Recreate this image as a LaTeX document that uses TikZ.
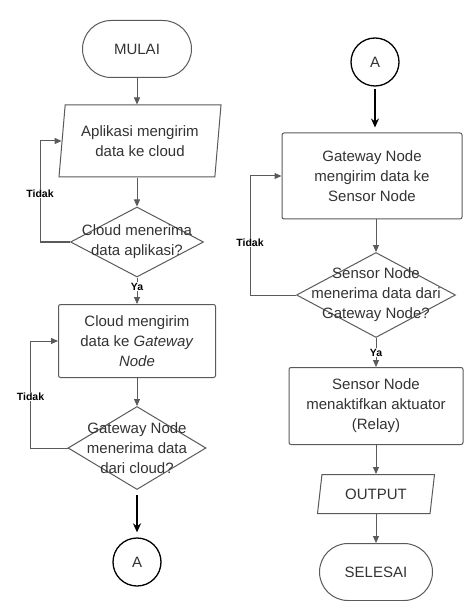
\documentclass[tikz,border=0pt]{standalone}
\usepackage{fontspec}
\setmainfont{Liberation Sans}
\usetikzlibrary{shapes.geometric,shapes.misc,arrows.meta}
\definecolor{garis}{HTML}{5A5A5A}
\definecolor{teks}{HTML}{333333}
\begin{document}
\begin{tikzpicture}[
  x=1pt, y=-1pt,
  every node/.style={font=\fontsize{15}{20}\selectfont, text=teks, align=center, inner sep=2pt},
  terminal/.style={rounded rectangle, draw=garis, line width=1pt, minimum width=113pt, minimum height=57pt},
  proses/.style={rectangle, rounded corners=2pt, draw=garis, line width=1pt},
  io/.style={trapezium, trapezium left angle=80, trapezium right angle=100, trapezium stretches body, draw=garis, line width=1pt},
  keputusan/.style={diamond, draw=garis, line width=1pt, inner sep=0pt},
  konektor/.style={circle, draw=black, line width=1.3pt, minimum size=48pt, inner sep=0pt},
  panah/.style={draw=garis, line width=1pt, -{Triangle[length=7pt,width=6pt]}},
  panahtebal/.style={draw=black, line width=1.6pt, -{Stealth[length=9pt,width=8pt]}},
  lbl/.style={font=\fontsize{10.5}{12}\selectfont\bfseries, text=black, fill=white, inner sep=1pt}
]
\path[use as bounding box, fill=white] (0,0) rectangle (464,601);

% kolom kiri
\node[terminal] (mulai) at (137,49) {MULAI};
\node[io, minimum width=162pt, minimum height=72pt] (kirim) at (140,141) {Aplikasi mengirim\\data ke cloud};
\node[keputusan, minimum width=133pt, minimum height=70pt,
  label={center:{Cloud menerima\\data aplikasi?}}] (cek1) at (137,242) {};
\node[proses, minimum width=157pt, minimum height=73pt] (cloud) at (137,341)
  {Cloud mengirim\\data ke \textit{Gateway}\\\textit{Node}};
\node[keputusan, minimum width=138pt, minimum height=83pt,
  label={center:{Gateway Node\\menerima data\\dari cloud?}}] (cek2) at (137,448) {};
\node[konektor] (A1) at (137,562) {A};

% kolom kanan
\node[konektor] (A2) at (375,62) {A};
\node[proses, minimum width=180pt, minimum height=86pt] (gw) at (372,176)
  {Gateway Node\\mengirim data ke\\Sensor Node};
\node[keputusan, minimum width=159pt, minimum height=85pt,
  label={center:{Sensor Node\\menerima data dari\\Gateway Node?}}] (cek3) at (376,295) {};
\node[proses, minimum width=174pt, minimum height=77pt] (aktif) at (376,406)
  {Sensor Node\\menaktifkan aktuator\\(Relay)};
\node[io, trapezium left angle=73, trapezium right angle=107,
  minimum width=117pt, minimum height=39pt] (output) at (376,494) {OUTPUT};
\node[terminal, minimum width=117pt] (selesai) at (376,572) {SELESAI};

% panah
\draw[panah] (mulai.south) -- (mulai.south |- kirim.north);
\draw[panah] (cek1.north |- kirim.south) -- (cek1.north);
\draw[panah] (cek1.south) -- node[lbl, pos=0.35] {Ya} (cloud.north);
\draw[panah] (cek1.west) -- ++(-30,0) |- node[lbl, pos=0.24] {Tidak} (kirim.west);
\draw[panah] (cloud) -- (cek2);
\draw[panah] (cek2.west) -- ++(-37,0) |- node[lbl, pos=0.24] {Tidak} (cloud.west);
\draw[panahtebal, shorten <=5pt, shorten >=5pt] (cek2.south) -- (A1.north);

\draw[panahtebal, shorten <=2pt, shorten >=5pt] (A2.south) -- (A2.south |- gw.north);
\draw[panah] (cek3.north |- gw.south) -- (cek3.north);
\draw[panah] (cek3.west) -- ++(-46,0) |- node[lbl, pos=0.22] {Tidak} (gw.west);
\draw[panah] (cek3.south) -- node[lbl] {Ya} (aktif.north);
\draw[panah] (aktif) -- (output);
\draw[panah] (output) -- (selesai);
\end{tikzpicture}
\end{document}
